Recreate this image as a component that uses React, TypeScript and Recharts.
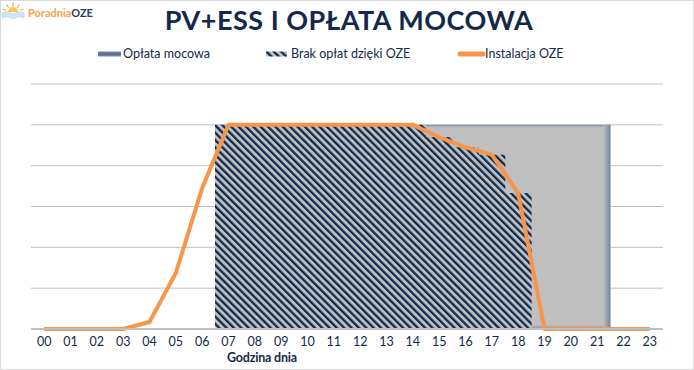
import React from "react";
import { ComposedChart, Bar, Line, XAxis, YAxis, CartesianGrid } from "recharts";

const HOURS = ["00", "01", "02", "03", "04", "05", "06", "07", "08", "09", "10", "11", "12", "13", "14", "15", "16", "17", "18", "19", "20", "21", "22", "23"];
const OPLATA_MOCOWA = [0, 0, 0, 0, 0, 0, 0, 5, 5, 5, 5, 5, 5, 5, 5, 5, 5, 5, 5, 5, 5, 5, 0, 0];
const BRAK_OPLAT = [0, 0, 0, 0, 0, 0, 0, 5, 5, 5, 5, 5, 5, 5, 5, 4.7, 4.45, 4.27, 3.33, 0, 0, 0, 0, 0];
const INSTALACJA_OZE = [0, 0, 0, 0, 0.17, 1.37, 3.45, 5, 5, 5, 5, 5, 5, 5, 5, 4.7, 4.45, 4.27, 3.33, 0, 0, 0, 0, 0];
const Y_TICKS = [0, 1, 2, 3, 4, 5, 6];

const data = HOURS.map((hour, i) => ({
    hour,
    oplata: OPLATA_MOCOWA[i],
    brak: BRAK_OPLAT[i],
    oze: INSTALACJA_OZE[i],
}));

const FIRST = OPLATA_MOCOWA.findIndex(v => v > 0);
const LAST = OPLATA_MOCOWA.length - 1 - [...OPLATA_MOCOWA].reverse().findIndex(v => v > 0);

const NAVY = "#13294b";
const ORANGE = "#f7964a";
const FONT = "Lato, 'Open Sans', sans-serif";

// recharts floors bar widths, so each bar is stretched by 1px to close the seams
function GrayBar(props: any) {
    const { x, y, width, height, index } = props;
    if (!height || height <= 0) return null;
    const w = index === LAST ? width + 0.4 : width + 1;
    return (
        <g>
            <rect x={x} y={y} width={w} height={height} fill="#bfbfbf" />
            <rect x={x} y={y} width={w} height={3} fill="url(#edgeTop)" />
            <rect x={x} y={y + height - 4} width={w} height={4} fill="url(#edgeBottom)" />
            {index === FIRST && <rect x={x} y={y} width={5} height={height} fill="url(#edgeLeft)" />}
            {index === LAST && <rect x={x + w - 7} y={y} width={7} height={height} fill="url(#edgeRight)" />}
        </g>
    );
}

function HatchBar(props: any) {
    const { x, y, width, height } = props;
    if (!height || height <= 0) return null;
    return <rect x={x} y={y} width={width + 1} height={height} fill="url(#hatch)" />;
}

function Defs() {
    return (
        <svg width={0} height={0} style={{ position: "absolute" }}>
            <defs>
                <pattern id="hatch" width={5.2} height={5.2} patternUnits="userSpaceOnUse" patternTransform="rotate(-45)">
                    <rect width={5.2} height={5.2} fill="#bfbfbf" />
                    <rect width={2.3} height={5.2} fill="#0f2a4f" />
                </pattern>
                <linearGradient id="edgeTop" x1="0" y1="0" x2="0" y2="1">
                    <stop offset="0" stopColor="#8391ad" />
                    <stop offset="1" stopColor="#bfbfbf" />
                </linearGradient>
                <linearGradient id="edgeBottom" x1="0" y1="0" x2="0" y2="1">
                    <stop offset="0" stopColor="#bfbfbf" />
                    <stop offset="1" stopColor="#8391ad" />
                </linearGradient>
                <linearGradient id="edgeLeft" x1="0" y1="0" x2="1" y2="0">
                    <stop offset="0" stopColor="#8391ad" />
                    <stop offset="1" stopColor="#bfbfbf" />
                </linearGradient>
                <linearGradient id="edgeRight" x1="0" y1="0" x2="1" y2="0">
                    <stop offset="0" stopColor="#bfbfbf" />
                    <stop offset="1" stopColor="#7282a3" />
                </linearGradient>
                <linearGradient id="legendBlue" x1="0" y1="0" x2="0" y2="1">
                    <stop offset="0" stopColor="#7d8cab" />
                    <stop offset="0.5" stopColor="#5b6b8c" />
                    <stop offset="1" stopColor="#7d8cab" />
                </linearGradient>
            </defs>
        </svg>
    );
}

function Overlay() {
    return (
        <svg width={694} height={370} style={{ position: "absolute", left: 0, top: 0, pointerEvents: "none" }}>
            {/* logo */}
            <g stroke="#f6b04a" strokeWidth={1.3} strokeLinecap="round">
                <line x1={13} y1={3} x2={13} y2={6} />
                <line x1={7} y1={5} x2={8.5} y2={7.5} />
                <line x1={19} y1={5} x2={17.5} y2={7.5} />
                <line x1={3} y1={9} x2={5.5} y2={10} />
                <line x1={23} y1={9} x2={20.5} y2={10} />
            </g>
            <path d="M8 12 A5 5 0 0 1 18 12 Z" fill="#f9c25a" />
            <path d="M2 13 Q7 10 13 14 Q19 10 24 13 L24 18 Q19 15 13 19 Q7 15 2 18 Z" fill="#cfe6f3" stroke="#a9d2ea" strokeWidth={0.6} />
            <text x={28} y={17} fontFamily={FONT} fontWeight={700} fontSize={11}>
                <tspan fill="#f7a24b">Poradnia</tspan><tspan fill="#2b3d5b">OZE</tspan>
            </text>

            {/* title */}
            <text x={349} y={30} textAnchor="middle" fontFamily={FONT} fontWeight={700} fontSize={27} fill={NAVY} letterSpacing={0.5}>
                PV+ESS I OPŁATA MOCOWA
            </text>

            {/* legend */}
            <rect x={98} y={51.5} width={23} height={5} fill="url(#legendBlue)" />
            <text x={123} y={58} fontFamily={FONT} fontSize={12.5} fill={NAVY}>Opłata mocowa</text>
            <rect x={266} y={51.5} width={21} height={5} fill="url(#hatch)" />
            <text x={291} y={58} fontFamily={FONT} fontSize={12.5} fill={NAVY}>Brak opłat dzięki OZE</text>
            <line x1={460} y1={54} x2={483} y2={54} stroke={ORANGE} strokeWidth={5} strokeLinecap="round" />
            <text x={485} y={58} fontFamily={FONT} fontSize={12.5} fill={NAVY}>Instalacja OZE</text>

            {/* axis title */}
            <text x={262} y={362} textAnchor="middle" fontFamily={FONT} fontWeight={700} fontSize={12.5} fill={NAVY} letterSpacing={-0.2}>
                Godzina dnia
            </text>

            <rect x={0.5} y={0.5} width={693} height={369} fill="none" stroke="#d9d9d9" />
        </svg>
    );
}

export default function App() {
    return (
        <div style={{ position: "absolute", left: 0, top: 0, width: 694, height: 370, background: "#fff", fontFamily: FONT }}>
            <Defs />
            <ComposedChart
                width={694}
                height={370}
                data={data}
                margin={{ top: 84, right: 31, left: 31, bottom: 11 }}
                barCategoryGap={0}
                barGap="-100%"
            >
                <CartesianGrid vertical={false} stroke="#bfbfbf" />
                <YAxis hide domain={[0, 6]} ticks={Y_TICKS} />
                <XAxis
                    dataKey="hour"
                    interval={0}
                    tickLine={false}
                    axisLine={{ stroke: "#bfbfbf", strokeWidth: 2 }}
                    tick={{ fill: NAVY, fontSize: 12.5, fontFamily: FONT }}
                />
                <Bar dataKey="oplata" shape={GrayBar} isAnimationActive={false} />
                <Bar dataKey="brak" shape={HatchBar} isAnimationActive={false} />
                <Line
                    dataKey="oze"
                    type="linear"
                    stroke={ORANGE}
                    strokeWidth={4}
                    strokeLinejoin="round"
                    dot={false}
                    isAnimationActive={false}
                />
            </ComposedChart>
            <Overlay />
        </div>
    );
}
